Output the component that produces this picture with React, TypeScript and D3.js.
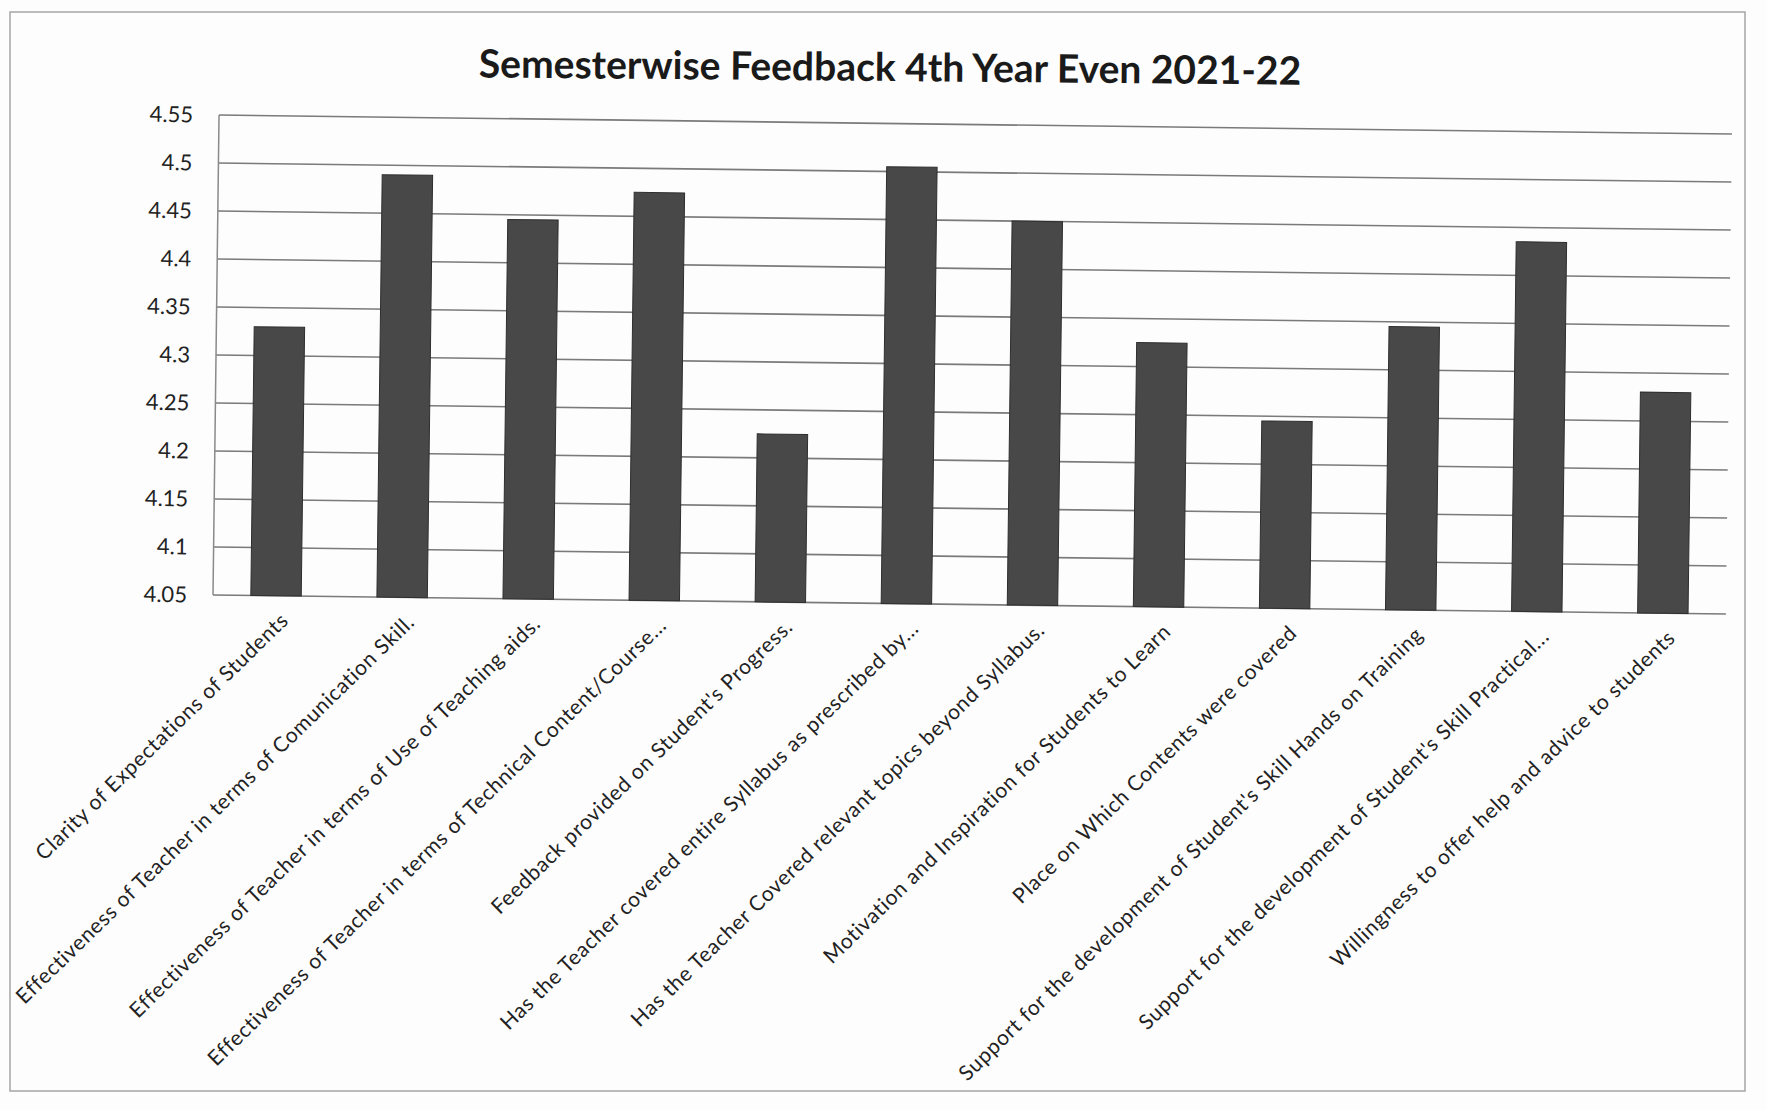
import * as d3 from 'd3'

const title = 'Semesterwise Feedback 4th Year Even 2021-22'

const categories = [
  'Clarity of Expectations of Students',
  'Effectiveness of Teacher in terms of Comunication Skill.',
  'Effectiveness of Teacher in terms of Use of Teaching aids.',
  'Effectiveness of Teacher in terms of Technical Content/Course...',
  "Feedback provided on Student's Progress.",
  'Has the Teacher covered entire Syllabus as prescribed by...',
  'Has the Teacher Covered relevant topics beyond Syllabus.',
  'Motivation and Inspiration for Students to Learn',
  'Place on Which Contents were covered',
  "Support for the development of Student's Skill Hands on Training",
  "Support for the development of Student's Skill Practical...",
  'Willingness to offer help and advice to students',
]

const values = [4.33, 4.49, 4.445, 4.475, 4.225, 4.505, 4.45, 4.325, 4.245, 4.345, 4.435, 4.28]

const yTicks = [4.05, 4.1, 4.15, 4.2, 4.25, 4.3, 4.35, 4.4, 4.45, 4.5, 4.55]

const W = 1767
const H = 1110
const font = 'Lato, "Noto Sans", sans-serif'

export default function App() {
  const left = 213
  const right = 1726
  const top = 115
  const bottom = 595

  const x = d3.scaleBand<string>().domain(categories).range([left, right]).paddingInner(0.6).paddingOuter(0.3)
  const y = d3.scaleLinear().domain([4.05, 4.55]).range([bottom, top])

  return (
    <svg width={W} height={H} style={{ position: 'fixed', left: 0, top: 0, background: '#fdfdfd' }}>
      {/* outer chart border */}
      <rect x={10} y={12} width={1735} height={1079} fill="none" stroke="#a5a5a5" strokeWidth={1.5} />

      <text x={890} y={81} textAnchor="middle" fontFamily={font} fontWeight={700} fontSize={39} fill="#1a1a1a"
        transform="rotate(0.5 890 68)">
        {title}
      </text>

      <g transform={`rotate(0.72 ${left} ${bottom})`}>
        {/* gridlines */}
        {yTicks.map(t => (
          <line key={t} x1={left} x2={right} y1={y(t)} y2={y(t)} stroke="#7a7a7a" strokeWidth={1.6} />
        ))}
        <line x1={left} x2={left} y1={top} y2={bottom} stroke="#8a8a8a" strokeWidth={1.5} />

        {/* y tick labels */}
        {yTicks.map(t => (
          <text key={t} x={left - 26} y={y(t)} dy="0.35em" textAnchor="end" fontFamily={font} fontSize={22} fill="#222">
            {String(t)}
          </text>
        ))}

        {/* bars */}
        {categories.map((c, i) => (
          <rect key={c} x={x(c)} y={y(values[i])} width={x.bandwidth()} height={bottom - y(values[i])}
            fill="#484848" stroke="#2e2e2e" strokeWidth={1} />
        ))}

        {/* category labels */}
        {categories.map(c => {
          const cx = (x(c) ?? 0) + x.bandwidth() / 2 + 14
          const cy = bottom + 26
          return (
            <text key={c} transform={`translate(${cx},${cy}) rotate(-45)`} textAnchor="end" fontFamily={font}
              fontSize={21} letterSpacing={0.7} fill="#222">
              {c}
            </text>
          )
        })}
      </g>
    </svg>
  )
}
